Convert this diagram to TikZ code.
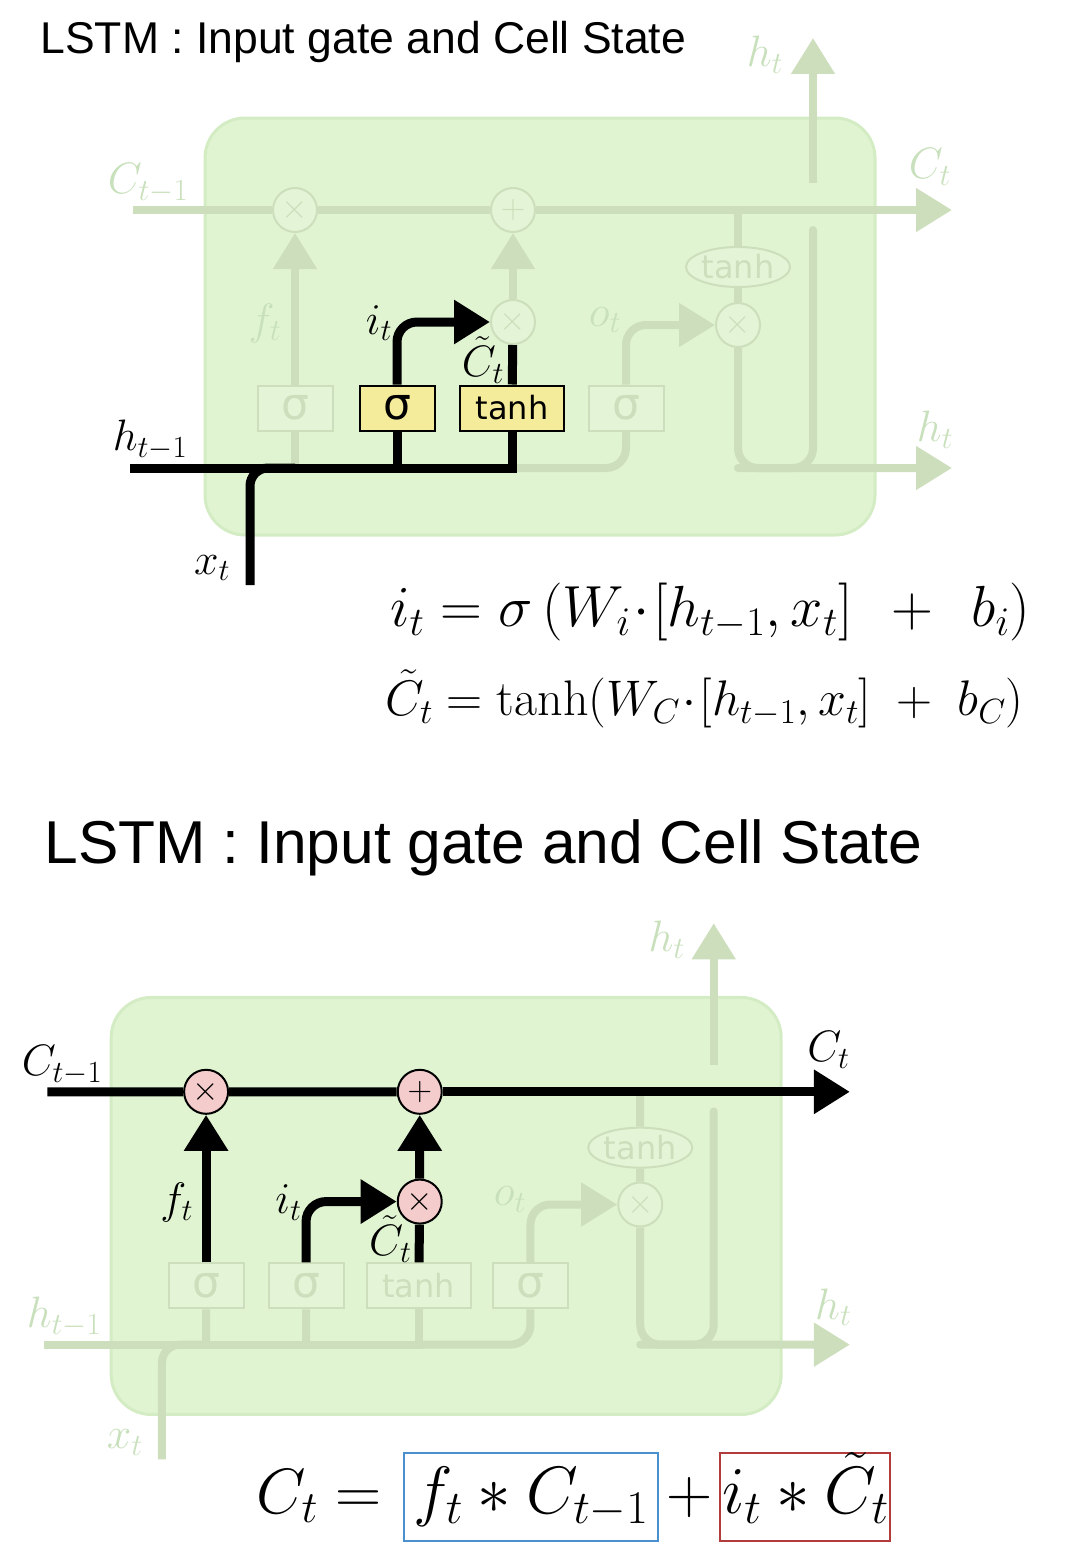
\RequirePackage{fix-cm}
\documentclass[tikz,border=0pt]{standalone}
\usepackage{fontspec}
\usepackage{tikz}
\usetikzlibrary{arrows.meta,positioning,shapes.geometric}
\newfontfamily\titlefont{Liberation Sans}
\newfontfamily\gatefont{DejaVu Sans}
\definecolor{cellgreen}{RGB}{224,244,210}
\definecolor{celledge}{RGB}{212,236,196}
\definecolor{fadegreen}{RGB}{205,222,188}
\definecolor{fadetext}{RGB}{200,224,188}
\definecolor{gatebg}{RGB}{228,245,215}
\definecolor{gateyellow}{RGB}{245,236,155}
\definecolor{oppink}{RGB}{244,204,204}
\definecolor{eqblue}{RGB}{74,144,206}
\definecolor{eqred}{RGB}{178,60,60}

\begin{document}
\begin{tikzpicture}[
        x=1pt, y=-1pt,
        fade/.style={draw=fadegreen, line width=8pt},
        bold/.style={draw=black, line width=9pt},
        bighead/.style={-{Triangle[length=36pt,width=42pt]}},
        cell/.style={draw=celledge, line width=3pt, fill=cellgreen, rounded corners=40pt,
            minimum width=670pt, minimum height=417pt},
        gate/.style={draw=black, line width=2pt, fill=gateyellow, minimum height=45pt, inner sep=0pt},
        fadegate/.style={gate, draw=fadegreen, fill=gatebg, text=fadegreen},
        sig/.style={minimum width=75pt, font=\gatefont\fontsize{44}{44}\selectfont},
        tnh/.style={minimum width=104pt, font=\gatefont\fontsize{32}{32}\selectfont},
        op/.style={circle, draw=black, line width=2pt, fill=oppink, minimum size=44pt,
            inner sep=0pt, font=\fontsize{34}{34}\selectfont},
        fadeop/.style={op, draw=fadegreen, fill=gatebg, text=fadegreen},
        fadeoval/.style={ellipse, draw=fadegreen, line width=2pt, fill=gatebg, text=fadegreen,
            minimum width=104pt, minimum height=40pt, inner sep=0pt, font=\gatefont\fontsize{32}{32}\selectfont},
        lbl/.style={inner sep=0pt, font=\fontsize{44}{44}\selectfont},
        fadelbl/.style={lbl, text=fadetext},
        eqtxt/.style={inner sep=0pt, text height=46pt, text depth=14pt, font=\fontsize{64}{64}\selectfont},
        eqbox/.style={eqtxt, line width=2pt, minimum height=88pt, font=\fontsize{67}{67}\selectfont}
    ]
    \useasboundingbox (0,0) rectangle (1075,1555);
    \node[anchor=west, font=\titlefont\fontsize{44.5}{50}\selectfont] (title1) at (37,42) {LSTM : Input gate and Cell State};
    \node[anchor=west, font=\titlefont\fontsize{60.5}{66}\selectfont] (title2) at (41,848) {LSTM : Input gate and Cell State};
    % input gate
    \begin{scope}
        \node[cell] (box) at (540,326.5) {};
        \node[fadeop] (mf) at (295,210) {$\times$};
        \node[fadeop] (ma) at (513,210) {$+$};
        \node[fadeop] (mi) at (513,322) {$\times$};
        \node[fadeop] (mo) at (738,325) {$\times$};
        \node[fadegate,sig] (sf) at (295,408) {σ};
        \node[gate,sig] (si) at (397,408) {σ};
        \node[gate,tnh] (tc) at (512,408) {tanh};
        \node[fadegate,sig] (so) at (626,408) {σ};
        \node[fadeoval] (th) at (738,267) {tanh};
        \coordinate (cin) at (133,210);
        \coordinate (cout) at (952,210);
        \coordinate (hin) at (130,468);
        \coordinate (hout) at (952,468);
        \coordinate (xin) at (250,585);
        \coordinate (htop) at (813,38);
        \coordinate (hv1) at (813,183);
        \coordinate (hv2) at (813,230);
        \draw[fade] (cin) -- (mf) (mf) -- (ma);
        \draw[fade,bighead] (ma) -- (cout);
        \draw[fade,bighead] (sf) -- (mf);
        \draw[fade] (sf) -- (sf |- hin);
        \draw[fade,bighead] (mi) -- (ma);
        \draw[fade,rounded corners=20pt] (tc |- hin) -| (so);
        \draw[fade,bighead,rounded corners=20pt] (so) |- (mo);
        \draw[fade] (th |- cin) -- (th) (th) -- (mo);
        \draw[fade,bighead,rounded corners=20pt] (mo) |- (hout);
        \draw[fade,line cap=round,rounded corners=20pt] (hv2) |- (mo |- hout);
        \draw[fade,bighead] (hv1) -- (htop);
        \draw[bold] (hin) -| (tc);
        \draw[bold] (si) -- (si |- hin);
        \draw[bold,rounded corners=18pt] (xin) |- (sf |- hin);
        \draw[bold,bighead,rounded corners=20pt] (si) |- (mi);
        \draw[bold] (tc) -- (mi);
        \node[fadelbl] (lcp) at (148,183) {$C_{t-1}$};
        \node[fadelbl] (lct) at (930,167) {$C_t$};
        \node[fadelbl] (lht) at (765,55) {$h_t$};
        \node[fadelbl] (lho) at (935,430) {$h_t$};
        \node[fadelbl] (lft) at (265,323) {$f_t$};
        \node[fadelbl] (lot) at (605,320) {$o_t$};
        \node[lbl] (lit) at (379,323) {$i_t$};
        \node[lbl] (lcc) at (483,360) {$\tilde{C}_t$};
        \node[lbl] (lhp) at (150,440) {$h_{t-1}$};
        \node[lbl] (lxt) at (212,568) {$x_t$};
    \end{scope}
    \node[anchor=west, inner sep=0pt, font=\fontsize{58}{58}\selectfont] (eqi) at (390,612)
        {$i_t = \sigma\,(W_i\!\cdot\![h_{t-1},x_t]\;\,+\;\,b_i)$};
    \node[anchor=west, inner sep=0pt, font=\fontsize{50}{50}\selectfont] (eqc) at (385,699)
        {$\tilde{C}_t = \tanh(W_C\!\cdot\![h_{t-1},x_t]\;+\;b_C)$};
    % cell state
    \begin{scope}[shift={(-83,886)}, scale=0.98]
        \node[cell] (box) at (540,326.5) {};
        \node[op] (mf) at (295,210) {$\times$};
        \node[op] (ma) at (513,210) {$+$};
        \node[op] (mi) at (513,322) {$\times$};
        \node[fadeop] (mo) at (738,325) {$\times$};
        \node[fadegate,sig] (sf) at (295,408) {σ};
        \node[fadegate,sig] (si) at (397,408) {σ};
        \node[fadegate,tnh] (tc) at (512,408) {tanh};
        \node[fadegate,sig] (so) at (626,408) {σ};
        \node[fadeoval] (th) at (738,267) {tanh};
        \coordinate (cin) at (133,210);
        \coordinate (cout) at (952,210);
        \coordinate (hin) at (130,468);
        \coordinate (hout) at (952,468);
        \coordinate (xin) at (250,585);
        \coordinate (htop) at (813,38);
        \coordinate (hv1) at (813,183);
        \coordinate (hv2) at (813,230);
        \draw[fade] (hin) -| (tc);
        \draw[fade] (sf) -- (sf |- hin);
        \draw[fade] (si) -- (si |- hin);
        \draw[fade,rounded corners=18pt] (xin) |- (sf |- hin);
        \draw[fade,rounded corners=20pt] (tc |- hin) -| (so);
        \draw[fade,bighead,rounded corners=20pt] (so) |- (mo);
        \draw[fade] (th |- cin) -- (th) (th) -- (mo);
        \draw[fade,bighead,rounded corners=20pt] (mo) |- (hout);
        \draw[fade,line cap=round,rounded corners=20pt] (hv2) |- (mo |- hout);
        \draw[fade,bighead] (hv1) -- (htop);
        \draw[bold] (cin) -- (mf) (mf) -- (ma);
        \draw[bold,bighead] (ma) -- (cout);
        \draw[bold,bighead] (sf) -- (mf);
        \draw[bold,bighead] (mi) -- (ma);
        \draw[bold,bighead,rounded corners=20pt] (si) |- (mi);
        \draw[bold] (tc) -- (mi);
        \node[lbl] (lcp) at (148,183) {$C_{t-1}$};
        \node[lbl] (lct) at (930,167) {$C_t$};
        \node[fadelbl] (lht) at (765,55) {$h_t$};
        \node[fadelbl] (lho) at (935,430) {$h_t$};
        \node[lbl] (lft) at (265,323) {$f_t$};
        \node[fadelbl] (lot) at (605,320) {$o_t$};
        \node[lbl] (lit) at (379,323) {$i_t$};
        \node[lbl] (lcc) at (483,360) {$\tilde{C}_t$};
        \node[fadelbl] (lhp) at (150,440) {$h_{t-1}$};
        \node[fadelbl] (lxt) at (212,568) {$x_t$};
    \end{scope}
    \node[eqbox, draw=eqblue, minimum width=254pt] (fc) at (531,1497) {$f_t * C_{t-1}$};
    \node[eqtxt, minimum width=60pt, right=0pt of fc] (pl) {$+$};
    \node[eqbox, draw=eqred, minimum width=170pt, right=0pt of pl] (ic) {$i_t * \tilde{C}_t$};
    \node[eqtxt, left=21pt of fc] (ct) {$C_t =$};
\end{tikzpicture}
\end{document}
